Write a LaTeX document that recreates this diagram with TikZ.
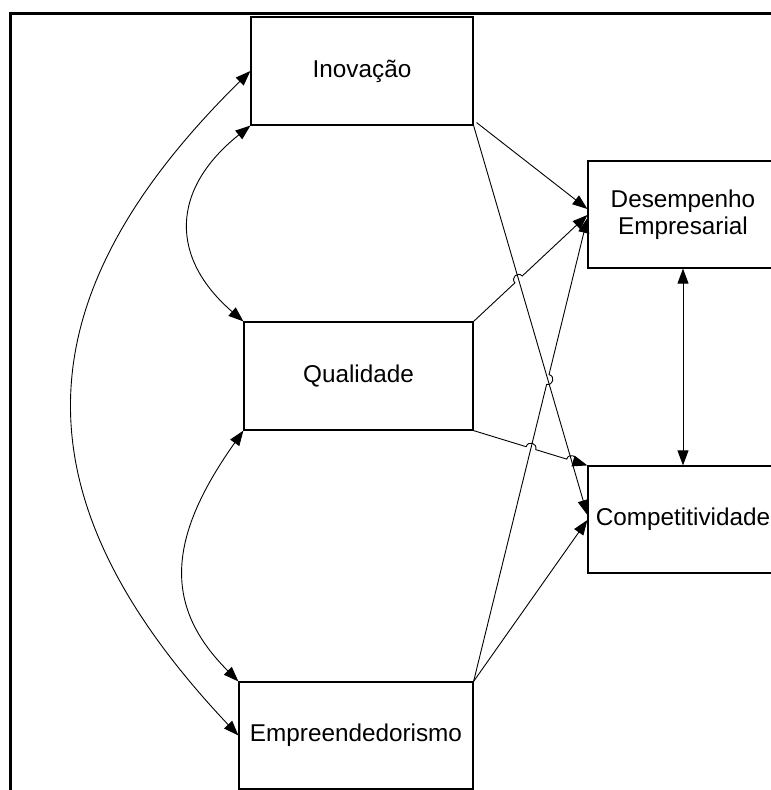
\documentclass[tikz,border=0pt]{standalone}
\usepackage{fontspec}
\setmainfont{Liberation Sans}
\usetikzlibrary{arrows.meta,calc}
\newcommand{\mkhop}[6]{%
  \coordinate (#1a) at ($(#4)!5pt!(#2)$);
  \coordinate (#1b) at ($(#4)!5pt!(#3)$);
  \coordinate (#1c) at ($(#1a)!6.7pt!#5:(#4)$);
  \coordinate (#1d) at ($(#1b)!6.7pt!#6:(#4)$);
}
\begin{document}
\begin{tikzpicture}[x=1pt,y=-1pt,
  box/.style={draw,line width=1.2pt,inner sep=0pt,align=center,
    font=\fontsize{24.3}{27}\selectfont},
  conn/.style={line width=0.9pt,-{Triangle[length=15pt,width=11pt]}},
  dconn/.style={line width=0.9pt,{Triangle[length=15pt,width=11pt]}-{Triangle[length=15pt,width=11pt]}},
  frame/.style={line width=3pt}]
\useasboundingbox (0,0) rectangle (771,790);
\clip (0,0) rectangle (771,790);
\draw[frame] (10,800) -- (10,13) -- (780,13);

\node[box,minimum width=222pt,minimum height=108pt] (ino) at (362,71) {Inovação};
\node[box,minimum width=229pt,minimum height=108pt] (qua) at (358.5,376) {Qualidade};
\node[box,minimum width=234pt,minimum height=107pt] (emp) at (356,735.5) {Empreendedorismo};
\node[box,minimum width=190pt,minimum height=107pt] (des) at (683,214.5) {Desempenho\\Empresarial};
\node[box,minimum width=190pt,minimum height=107pt] (comp) at (683,519.5) {Competitividade};

% endpoints
\coordinate (i1) at (ino.south east);
\coordinate (i0) at ($(ino.south east)+(3,-3)$);
\coordinate (qNE) at (qua.north east);
\coordinate (qSE) at (qua.south east);
\coordinate (eNE) at (emp.north east);
\coordinate (cNW) at (comp.north west);
\coordinate (dA) at ($(des.west)+(0,-5.5)$);
\coordinate (dB) at ($(des.west)+(0,0.5)$);
\coordinate (dC) at ($(des.west)+(0,3.5)$);
\coordinate (cA) at ($(comp.west)+(0,-4.5)$);
\coordinate (cB) at ($(comp.west)+(0,0.5)$);

% crossings
\coordinate (X1) at (intersection of qNE--dB and i1--cA);
\coordinate (X2) at (intersection of eNE--dC and i1--cA);
\coordinate (X3) at (intersection of qSE--cNW and eNE--dC);
\coordinate (X4) at (intersection of qSE--cNW and i1--cA);
\mkhop{h1}{qNE}{dB}{X1}{90}{-90}
\mkhop{h2}{eNE}{dC}{X2}{-90}{90}
\mkhop{h3}{qSE}{cNW}{X3}{90}{-90}
\mkhop{h4}{qSE}{cNW}{X4}{90}{-90}

% straight connectors
\draw[conn] (i0) -- (dA);
\draw[conn] (i1) -- (cA);
\draw[conn] (qNE) -- (h1a) .. controls (h1c) and (h1d) .. (h1b) -- (dB);
\draw[conn] (eNE) -- (h2a) .. controls (h2c) and (h2d) .. (h2b) -- (dC);
\draw[conn] (eNE) -- (cB);
\draw[conn] (qSE) -- (h3a) .. controls (h3c) and (h3d) .. (h3b) -- (h4a) .. controls (h4c) and (h4d) .. (h4b) -- (cNW);
\draw[dconn] (des.south) -- (comp.north);

% curved correlations
\draw[dconn] (ino.west) .. controls (18,300) and (14,498) .. (emp.west);
\draw[dconn] (ino.south west) .. controls (170,190) and (170,258) .. (qua.north west);
\draw[dconn] (qua.south west) .. controls (165,541) and (165,608) .. (emp.north west);
\end{tikzpicture}
\end{document}
